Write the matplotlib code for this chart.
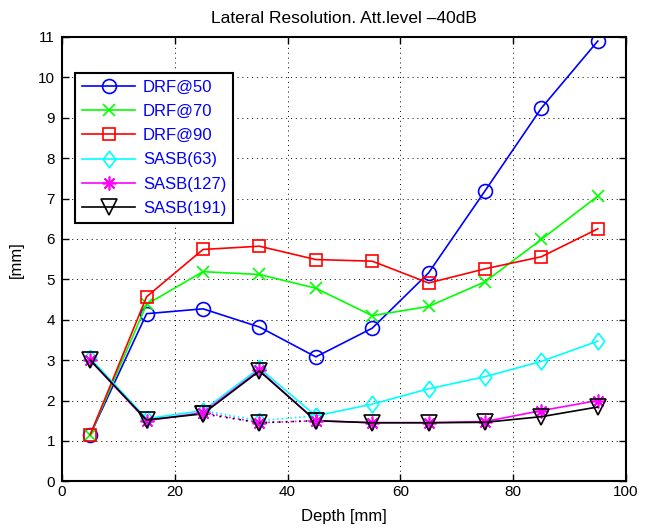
import matplotlib
matplotlib.use('Agg')
import matplotlib.pyplot as plt

plt.rcParams['font.family'] = ['Liberation Sans', 'DejaVu Sans']

# depth positions [mm]
depth = [5, 15, 25, 35, 45, 55, 65, 75, 85, 95]

# lateral resolution [mm]
drf50 = [1.15, 4.15, 4.27, 3.82, 3.08, 3.79, 5.16, 7.19, 9.24, 10.9]
drf70 = [1.15, 4.38, 5.19, 5.12, 4.78, 4.10, 4.33, 4.94, 5.99, 7.06]
drf90 = [1.15, 4.57, 5.74, 5.82, 5.49, 5.45, 4.91, 5.26, 5.56, 6.25]
sasb63 = [3.05, 1.55, 1.75, 2.80, 1.62, 1.91, 2.29, 2.59, 2.97, 3.47]
sasb127 = [3.00, 1.50, 1.70, 2.75, 1.50, 1.45, 1.45, 1.48, 1.75, 2.00]
sasb191 = [3.00, 1.52, 1.67, 2.73, 1.50, 1.45, 1.45, 1.46, 1.60, 1.84]

# second (dotted) branch around 35 mm
depth_alt = [25, 35, 45]
sasb63_alt = [1.75, 1.50, 1.62]
sasb127_alt = [1.70, 1.45, 1.50]
sasb191_alt = [1.67, 1.45, 1.50]

labels = ['DRF@50', 'DRF@70', 'DRF@90', 'SASB(63)', 'SASB(127)', 'SASB(191)']

# matlab-like colours and markers
c_blue, c_green, c_red = '#0000ff', '#00ff00', '#ff0000'
c_cyan, c_mag, c_black = '#00ffff', '#ff00ff', '#000000'
diamond = [(0, 1), (0.75, 0), (0, -1), (-0.75, 0), (0, 1)]
asterisk = (8, 2, 0)

fig = plt.figure(figsize=(6.56, 5.29), dpi=100)
ax = fig.add_axes([62 / 656, 1 - 481.3 / 529, 564 / 656, 444.3 / 529])

lw = 1.2
style = dict(lw=lw, mfc='none', mew=1.2)
ax.plot(depth, drf50, color=c_blue, marker='o', ms=10, label=labels[0], **style)
ax.plot(depth, drf70, color=c_green, marker='x', ms=8, label=labels[1], **style)
ax.plot(depth, drf90, color=c_red, marker='s', ms=9, label=labels[2], **style)
ax.plot(depth, sasb63, color=c_cyan, marker=diamond, ms=12, label=labels[3], **style)
ax.plot(depth, sasb127, color=c_mag, marker=asterisk, ms=10, label=labels[4], **style)
ax.plot(depth, sasb191, color=c_black, marker='v', ms=11, label=labels[5], **style)

ax.plot(depth_alt, sasb63_alt, color=c_cyan, ls=':', marker=diamond, ms=12, **style)
ax.plot(depth_alt, sasb127_alt, color=c_mag, ls=':', marker=asterisk, ms=10, **style)
ax.plot(depth_alt, sasb191_alt, color=c_black, ls=(2, (1, 3)), marker='v', ms=11, **style)

ax.set_xlim(0, 100)
ax.set_ylim(0, 11)
ax.set_xticks(range(0, 101, 20))
ax.set_yticks(range(0, 12))
ax.grid(True, color='k', ls=(0, (1, 4)), lw=0.7)
ax.tick_params(direction='in', top=True, right=True, length=5, width=1, labelsize=11)
ax.tick_params(axis='x', pad=3)
ax.tick_params(axis='y', pad=5)
for s in ax.spines.values():
    s.set_linewidth(1.5)

ax.set_title('Lateral Resolution. Att.level \u201340dB', fontsize=12.5, pad=10)
ax.set_xlabel('Depth [mm]', fontsize=12, labelpad=7)
ax.set_ylabel('[mm]', fontsize=12, labelpad=10)

leg = ax.legend(loc='upper left', bbox_to_anchor=(0.023, 0.919), borderaxespad=0,
                fontsize=12, labelcolor=c_blue, fancybox=False, framealpha=1,
                edgecolor='k', handlelength=3.2, labelspacing=0.55,
                borderpad=0.42, handletextpad=0.45)
leg.get_frame().set_linewidth(1.5)

fig.savefig('out.png', dpi=100)
